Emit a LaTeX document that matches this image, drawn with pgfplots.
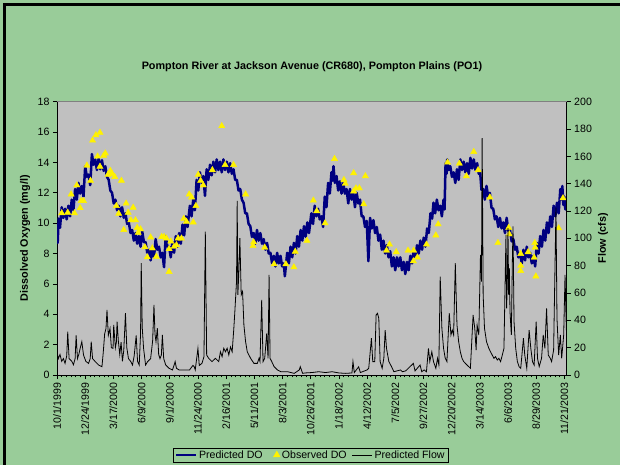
\documentclass[border=0pt]{standalone}
\usepackage{pgfplots}
\pgfplotsset{compat=1.18}
\usepackage{fontspec}
\setmainfont{Liberation Sans}
\definecolor{bggreen}{HTML}{99CC99}
\definecolor{plotgray}{HTML}{C0C0C0}
\definecolor{navyDO}{HTML}{000080}
\definecolor{axgray}{HTML}{808080}
\newcommand\tickfont{\fontsize{10.6}{12}\selectfont}
\begin{document}
\begin{tikzpicture}
\fill[bggreen] (0,0) rectangle (620pt,465pt);
\draw[black, line width=2.5pt] (4.5pt,0) -- (4.5pt,460.5pt) -- (620pt,460.5pt);
\begin{axis}[
  at={(57pt,90pt)}, anchor=south west, width=509.7pt, height=273.3pt, scale only axis,
  xmin=0, xmax=1519, ymin=0, ymax=18,
  axis x line=bottom, axis y line=left,
  axis line style={-, black, line width=0.6pt},
  every outer x axis line/.append style={-},
  every outer y axis line/.append style={-},
  axis background/.style={fill=plotgray},
  xtick={0,84,...,1512},
  xticklabels={10/1/1999,12/24/1999,3/17/2000,6/9/2000,9/1/2000,11/24/2000,2/16/2001,5/11/2001,8/3/2001,10/26/2001,1/18/2002,4/12/2002,7/5/2002,9/27/2002,12/20/2002,3/14/2003,6/6/2003,8/29/2003,11/21/2003},
  minor x tick num=5,
  ytick={0,2,...,18},
  tick align=outside, major tick length=4pt, minor tick length=2.5pt,
  tick style={black, line width=0.6pt},
  xticklabel style={rotate=90, anchor=east, font=\tickfont},
  yticklabel style={font=\tickfont},
  /pgf/number format/assume math mode=true,
  ylabel={Dissolved Oxygen (mg/l)},
  every axis y label/.style={at={(axis description cs:-0.0628,0.5)}, anchor=center, rotate=90, font=\fontsize{10.8}{12}\selectfont\bfseries},
  title={Pompton River at Jackson Avenue (CR680), Pompton Plains (PO1)},
  every axis title/.style={at={(axis description cs:0.5003,1.127)}, anchor=center, font=\fontsize{10.8}{12}\selectfont\bfseries},
  after end axis/.code={\draw[axgray, line width=0.6pt] (rel axis cs:0,1) -- (rel axis cs:1,1);},
]
\addplot[navyDO, line width=2.5pt, line join=round, mark=none] coordinates {
(0,9.3)(2,8.7)(5,10.3)(9,9.7)(14,11.05)(19,10.35)(24,10.95)(29,10.25)(34,11.15)(39,10.45)
(44,11.55)(49,10.85)(54,12.25)(59,11.55)(64,12.65)(69,11.95)(74,12.45)(79,11.75)(84,13.75)(89,13.05)
(94,13.2)(99,12.5)(104,14.55)(109,13.85)(114,14.2)(119,13.5)(124,14.25)(129,13.55)(134,14.15)(139,13.45)
(144,13.75)(149,13.05)(154,12.85)(159,12.15)(164,12.0)(169,11.3)(174,11.55)(179,10.85)(184,11.15)(189,10.45)
(194,11.05)(199,10.35)(204,10.65)(209,9.95)(214,10.05)(219,9.35)(224,9.55)(229,8.85)(234,9.35)(239,8.65)
(244,9.15)(249,8.45)(254,9.45)(259,8.75)(264,8.75)(269,8.05)(274,8.25)(279,7.55)(284,8.45)(289,7.75)
(294,8.95)(299,8.25)(304,8.45)(309,7.75)(314,8.05)(319,7.1)(324,9.15)(329,8.45)(334,8.45)(339,7.75)
(344,8.75)(349,8.05)(354,9.15)(359,8.45)(364,9.35)(369,8.65)(374,9.9)(379,9.2)(384,10.45)(389,9.75)
(396,11.15)(401,10.45)(406,11.55)(411,10.85)(416,12.85)(421,12.15)(426,13.35)(431,12.65)(436,13.1)(441,11.8)
(446,13.55)(451,12.85)(456,13.85)(461,13.15)(466,14.05)(471,13.35)(476,14.2)(481,13.5)(486,14.05)(491,13.35)
(496,14.2)(501,13.5)(506,14.05)(511,13.35)(516,13.95)(521,13.25)(526,13.55)(531,12.85)(536,12.85)(541,12.15)
(546,12.25)(551,11.55)(556,11.35)(561,10.65)(566,10.65)(571,9.95)(576,9.8)(581,9.1)(586,9.35)(591,8.65)
(596,9.55)(601,8.85)(606,9.35)(611,8.65)(616,8.95)(621,8.25)(626,8.7)(631,8.0)(636,8.05)(641,7.35)
(646,7.85)(651,7.15)(656,8.05)(661,7.35)(666,7.85)(671,7.15)(676,7.35)(679,6.5)(686,8.05)(691,7.35)
(696,8.45)(701,7.75)(706,8.7)(711,8.0)(716,9.15)(721,8.45)(726,9.55)(731,8.85)(736,9.8)(741,9.1)
(746,10.05)(751,9.35)(758,10.65)(763,9.95)(768,11.15)(773,10.45)(778,10.95)(783,10.25)(788,10.45)(793,9.75)
(798,11.75)(803,11.05)(808,12.65)(813,11.95)(818,13.35)(821,12.8)(824,13.75)(828,12.65)(833,13.1)(838,12.15)
(843,12.75)(848,11.95)(853,12.65)(858,11.95)(863,12.25)(868,11.3)(873,12.25)(878,11.55)(883,12.0)(888,11.05)
(893,12.0)(898,11.3)(903,11.55)(908,10.45)(913,10.45)(918,9.75)(923,10.15)(928,7.5)(933,10.35)(938,9.65)
(943,10.2)(948,9.35)(953,9.75)(958,8.85)(963,9.25)(968,8.25)(973,8.85)(978,8.0)(983,8.55)(988,7.75)
(993,8.15)(998,7.15)(1003,7.75)(1008,6.9)(1013,7.75)(1018,7.15)(1023,7.75)(1028,6.9)(1033,7.45)(1038,6.65)
(1043,7.45)(1048,6.9)(1053,7.85)(1058,7.35)(1063,8.25)(1068,7.75)(1073,8.55)(1078,8.0)(1083,8.85)(1088,8.25)
(1093,9.05)(1098,8.45)(1103,9.65)(1108,9.35)(1113,10.65)(1118,10.3)(1122,11.35)(1127,10.65)(1132,11.55)(1137,10.85)
(1142,11.15)(1147,10.45)(1152,11.55)(1155,10.9)(1158,13.95)(1161,13.25)(1163,14.2)(1167,13.5)(1172,13.75)(1177,13.05)
(1182,13.35)(1187,12.65)(1192,13.55)(1197,12.85)(1202,14.2)(1207,13.5)(1212,14.05)(1217,13.35)(1222,13.95)(1227,13.25)
(1232,14.3)(1237,13.6)(1242,14.2)(1247,13.5)(1252,13.95)(1257,13.25)(1261,13.35)(1265,12.2)(1270,12.25)(1275,11.55)
(1280,12.45)(1285,11.75)(1290,12.0)(1295,11.0)(1300,10.95)(1305,10.25)(1310,10.45)(1315,9.75)(1320,10.35)(1325,9.65)
(1330,10.05)(1335,9.35)(1340,10.35)(1345,9.5)(1350,9.55)(1355,8.8)(1360,8.95)(1365,8.25)(1370,8.45)(1375,7.75)
(1380,8.05)(1385,7.35)(1390,8.25)(1395,7.55)(1400,8.45)(1405,7.75)(1410,8.05)(1415,7.35)(1420,7.85)(1425,7.15)
(1430,8.7)(1435,8.0)(1440,9.15)(1445,8.45)(1450,9.55)(1455,8.85)(1460,10.05)(1465,9.35)(1470,10.45)(1475,9.75)
(1480,11.15)(1485,10.45)(1490,11.35)(1495,10.65)(1500,12.25)(1504,11.55)(1506,12.45)(1509,11.2)(1512,11.75)(1515,10.9)
(1519,11.4)
};
\addplot[only marks, mark=triangle*, mark size=3.6pt, mark options={fill=yellow, draw=yellow}] coordinates {
(14,10.66)(32,10.7)(52,10.66)(42,11.9)(59,12.5)(69,11.0)(72,11.47)(79,11.47)(89,13.8)(100,12.8)
(106,15.45)(116,15.8)(128,15.97)(121,14.4)(128,13.73)(139,14.45)(144,14.6)(152,13.2)(159,13.45)(164,13.25)
(172,13.05)(192,12.8)(177,11.14)(184,10.63)(206,11.3)(212,10.7)(220,10.2)(227,11.03)(234,10.2)(199,9.56)
(239,9.7)(242,9.38)(249,9.6)(279,9.07)(262,8.42)(269,7.76)(284,8.35)(296,7.8)(312,9.1)(319,9.1)
(326,9.0)(339,8.8)(334,8.3)(349,8.45)(356,8.56)(334,6.8)(361,9.0)
(371,9.0)(378,10.3)(386,10.1)(406,10.06)(394,11.9)(401,11.7)(414,11.14)(421,13.2)(428,12.8)(436,12.5)
(463,13.5)(491,16.4)(501,13.84)(526,13.84)(562,11.9)(586,8.75)(584,8.5)(619,8.4)(647,7.3)(682,7.3)
(706,7.1)(710,8.13)(745,8.85)
(764,11.5)(774,10.8)(799,10.0)(827,14.24)(855,12.85)(859,12.6)(884,13.3)(884,12.1)(891,12.3)(901,12.3)
(919,13.1)(914,11.25)(982,8.2)(991,8.6)(1011,8.1)(1046,8.2)(1063,8.2)(1074,7.75)(1062,7.5)(1101,8.6)
(1129,9.2)
(1136,9.93)(1164,14.0)(1199,13.93)(1220,13.1)(1242,14.7)(1255,13.5)(1290,11.7)(1314,8.7)(1346,9.7)(1348,9.27)
(1382,7.98)(1382,7.2)(1382,6.86)(1404,8.1)(1424,8.7)(1425,8.4)(1422,7.74)(1427,6.5)(1495,9.67)(1508,11.65)
};
\end{axis}
\begin{axis}[
  at={(57pt,90pt)}, anchor=south west, width=509.7pt, height=273.3pt, scale only axis,
  xmin=0, xmax=1519, ymin=0, ymax=200,
  axis x line=none, axis y line=right,
  axis line style={-, black, line width=0.6pt},
  every outer y axis line/.append style={-},
  ytick={0,20,...,200},
  tick align=outside, major tick length=4pt,
  tick style={black, line width=0.6pt},
  yticklabel style={font=\tickfont},
  /pgf/number format/assume math mode=true,
  ylabel={Flow (cfs)},
  every axis y label/.style={at={(axis description cs:1.0712,0.5)}, anchor=center, rotate=90, font=\fontsize{10.8}{12}\selectfont\bfseries},
  legend columns=3,
  legend image code/.code={\draw[#1] (0pt,0pt) -- (20pt,0pt);},
  legend style={at={(axis description cs:0.498,-0.2927)}, anchor=center, fill=bggreen, draw=black, line width=0.8pt,
    font=\tickfont, inner xsep=2pt, inner ysep=0.5pt},
]
\addlegendimage{navyDO, line width=2pt}
\addlegendentry{Predicted DO\rule{9pt}{0pt}}
\addlegendimage{legend image code/.code={\draw[yellow, mark=triangle*, mark size=3.6pt, mark options={fill=yellow, draw=yellow}] plot coordinates {(4pt,0pt)};}}
\addlegendentry{Observed DO\rule{3pt}{0pt}}
\addplot[black, line width=0.8pt, mark=none] coordinates {
(0,17)(4,12)(9,15)(14,10)(19,12)(24,8.5)(29,14)(32,31.7)(36,12)(44,10)
(49,7.5)(54,12)(57,29)(61,12)(65,15)(69,19.5)(74,24.4)(79,14.6)(86,10)(94,8.5)
(99,12)(102,24.4)(106,12)(114,9.8)(124,7.3)(134,6.1)(138,17)(142,30)(146,34)(149,47.6)
(153,29)(158,34)(162,20)(167,19.5)(169,36.6)(174,20)(177,24)(179,39)(183,24.4)(187,15)
(191,24)(195,10)(199,18)(204,45.2)(208,20)(213,12)(220,9.8)(225,7.3)(230,14)(236,29)
(240,10)(245,7.3)(249,30)(251,81.8)(254,35)(258,19.5)(264,7.3)(270,9.8)(279,12)(285,25)
(289,51.3)(292,30)(295,24.4)(299,34.2)(303,15)(307,12)(311,14.6)(314,29.3)(318,12)(324,7.3)
(334,4.9)(344,3.7)(350,8)(352,9.8)(356,4.9)(364,3.7)
(367,3.7)(380,3.7)(395,3.7)(405,7)(409,6)(412,3.7)(420,19.5)(424,7)(432,8.5)(438,13.4)
(442,105)(446,14.6)(452,12.2)(462,9.8)(472,12.2)(482,9.8)(487,17)(492,13.4)(497,19.5)(502,17)
(507,19.5)(512,14.6)(517,20.5)(522,17)(527,34.2)(530,46.4)(535,68.4)(537,127.4)(539,58.6)(542,75.7)
(545,100.2)(549,58.6)(553,61.1)(557,36.6)(562,24.4)(567,17)(577,12.2)(587,8.5)(597,8.5)(602,12.2)
(605,9.8)(610,55)(614,9.8)(619,12.2)(625,30.5)(629,12.2)(632,73.3)(635,12.2)(640,9.8)(647,6.1)
(657,3.7)(667,2.4)(687,2.4)(707,1.2)(722,3.7)(725,6.1)(732,1.2)
(739,1.5)(760,1.8)(780,2.4)(800,1.8)(820,2.4)(840,1.5)(860,1.2)(879,1.5)(882,9.8)(886,1.8)
(899,6)(904,1.8)(924,3.7)(929,4.9)(937,26.9)(941,9.8)(947,9.8)(951,43.9)(955,45.2)(959,41.5)
(963,9.8)(969,4.9)(974,12.2)(978,32.9)(982,19.5)(989,9.8)(997,6.1)(1004,2.4)(1024,3.7)(1029,2.4)
(1039,3)(1062,8.5)(1067,3)(1082,7.3)(1087,2.4)(1094,3.7)(1101,2.4)(1107,19.5)(1111,9.8)(1117,17)
(1122,9.8)(1129,4.9)(1134,12.2)(1138,7.3)(1142,72)(1147,34.2)(1152,19.5)(1157,12.2)(1162,9.8)(1169,45.2)
(1174,29.3)(1178,32.9)(1182,29.3)(1187,81.8)(1192,36.6)(1197,24.4)(1202,17)(1207,12.2)(1212,9.8)(1222,7.3)
(1232,4.9)(1240,43.9)(1245,34.2)(1249,18.3)(1252,36.6)(1257,29.3)(1262,87.9)(1265,68.4)(1267,173.4)(1270,58.6)
(1274,34.2)(1280,24.4)(1287,19.5)(1292,17)(1297,14.6)(1302,12.2)(1307,13.4)(1312,11)(1317,12.2)(1322,9.8)
(1327,14.6)(1332,19.5)(1338,102.6)(1340,48.8)(1342,68.4)(1344,107.5)(1346,58.6)(1348,78.2)(1350,46.4)(1354,29.3)
(1357,83)(1359,108.7)(1362,39.1)(1367,19.5)(1372,9.8)(1377,6.1)(1382,4.9)(1390,26.9)(1394,14.6)(1400,4.9)
(1407,32.9)(1412,19.5)(1417,9.8)(1422,7.3)(1428,39.1)(1432,12.2)(1437,6.1)(1444,12.2)(1449,29.3)(1454,19.5)
(1459,48.8)(1464,14.6)(1470,12.2)(1474,9.8)(1480,18.3)(1487,122.5)(1490,41.5)(1495,14.6)(1500,29.3)(1504,12.2)
(1510,29.3)(1514,73.3)(1517,41.5)(1519,25)
};
\addlegendentry{Predicted Flow}
\end{axis}
\pgfresetboundingbox
\useasboundingbox (0,0) rectangle (620pt,465pt);
\end{tikzpicture}
\end{document}
